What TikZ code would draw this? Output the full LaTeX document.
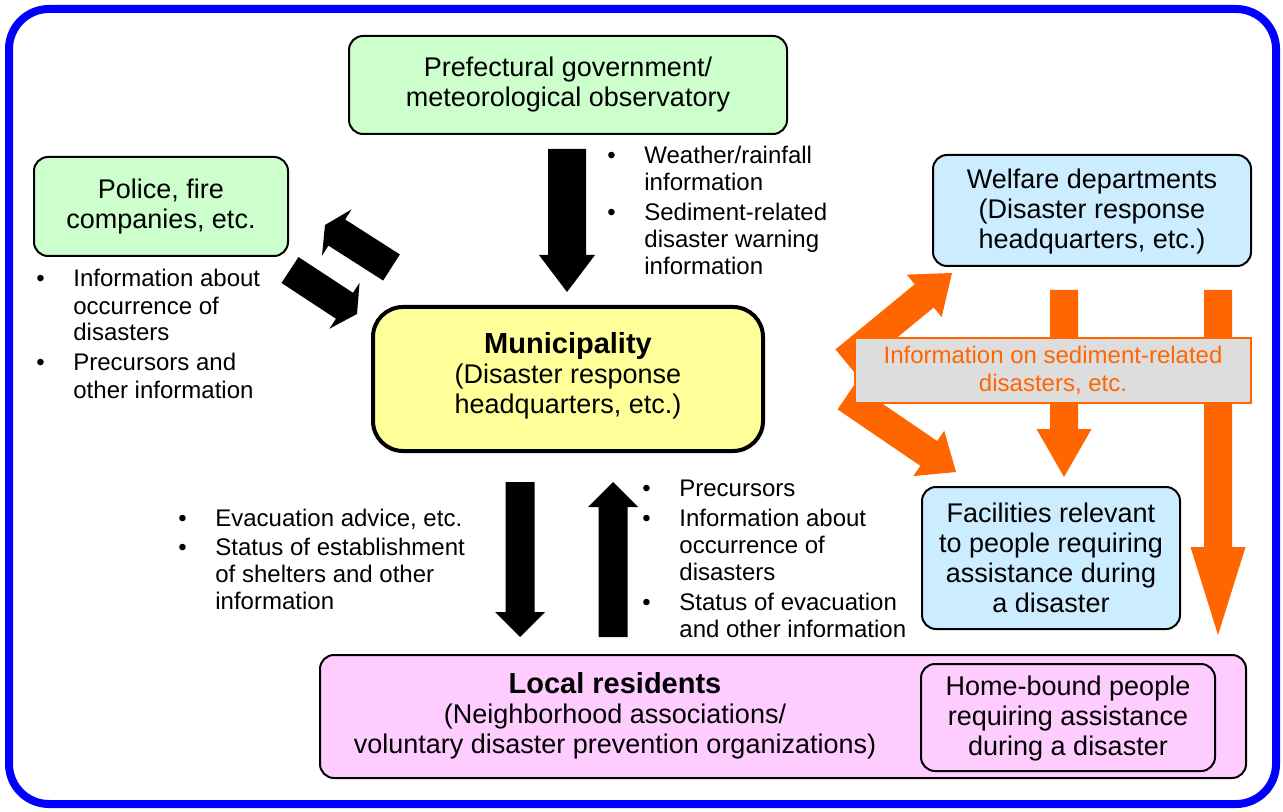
\documentclass[tikz,border=0pt]{standalone}
\usepackage{fontspec}
\setmainfont{Liberation Sans}
\usetikzlibrary{calc}
\definecolor{bordblue}{HTML}{0000FF}
\definecolor{cgreen}{HTML}{CCFFCC}
\definecolor{cblue}{HTML}{CCECFF}
\definecolor{cyellow}{HTML}{FFFF99}
\definecolor{cpink}{HTML}{FFCCFF}
\definecolor{corange}{HTML}{FF6600}
\definecolor{cgray}{HTML}{DDDDDD}
\newcommand\boxfont{\fontsize{13.5}{15}\selectfont}
\newcommand\listfont{\fontsize{12}{13.5}\selectfont}
\newcommand\headfont{\fontsize{14.5}{16.5}\selectfont\bfseries}
\newcommand\bul{\makebox[18.5pt][l]{\textbullet}}
\newcommand\ind{\hspace*{18.5pt}}
% #1 style, #2 start, #3 tip, #4 shaft half width, #5 head half width, #6 head length
\newcommand\myblockarrow[6]{%
  \path ($(#3)!#6!(#2)$) coordinate (hb);
  \fill[#1] ($(#2)!#4!90:(#3)$) -- ($(hb)!#4!90:(#3)$) -- ($(hb)!#5!90:(#3)$) -- (#3)
    -- ($(hb)!#5!-90:(#3)$) -- ($(hb)!#4!-90:(#3)$) -- ($(#2)!#4!-90:(#3)$) -- cycle;}
\begin{document}
\begin{tikzpicture}[x=0.5pt,y=-0.5pt,
  box/.style={draw=black, line width=1pt, rounded corners=7pt, align=center, inner sep=0pt, font=\boxfont},
  listtext/.style={anchor=base west, align=left, inner sep=0pt, font=\listfont},
  blackarrow/.style={fill=black},
  orangearrow/.style={fill=corange}]
\useasboundingbox (0,0) rectangle (1283,812);
\fill[white] (0,0) rectangle (1283,812);
\draw[bordblue, line width=4pt, rounded corners=20pt] (9,9) rectangle (1276,804);

% boxes
\node[box, fill=cgreen, minimum width=219pt, minimum height=49pt] (pref) at (568,85)
  {Prefectural government/\\meteorological observatory};
\node[box, fill=cgreen, minimum width=127pt, minimum height=49.5pt] (police) at (161,206.5)
  {Police, fire\\companies, etc.};
\node[box, fill=cblue, minimum width=159pt, minimum height=55.5pt] (welfare) at (1092,210.5) {};
\node[align=center, inner sep=0pt, font=\boxfont] (welfaretext) at (1092,212)
  {Welfare departments\\(Disaster response\\headquarters, etc.)};
\node[box, fill=cyellow, line width=2pt, rounded corners=15pt, minimum width=195pt, minimum height=72pt] (muni) at (568,379) {};
\node[align=center, inner sep=0pt, font=\boxfont] (munitext) at (568,376)
  {{\headfont Municipality}\\(Disaster response\\headquarters, etc.)};
\node[box, fill=cblue, minimum width=129pt, minimum height=71pt] (facil) at (1051,558)
  {Facilities relevant\\to people requiring\\assistance during\\a disaster};
\node[box, fill=cpink, minimum width=463pt, minimum height=61.5pt] (local) at (783,716.5) {};
\node[align=center, inner sep=0pt, font=\boxfont] (localtext) at (615,716)
  {{\headfont Local residents}\\(Neighborhood associations/\\voluntary disaster prevention organizations)};
\node[box, fill=cpink, minimum width=147pt, minimum height=53.5pt] (home) at (1068,717.5) {};
\node[align=center, inner sep=0pt, font=\boxfont] (hometext) at (1068,719)
  {Home-bound people\\requiring assistance\\during a disaster};

% black arrows
\coordinate (a1s) at (567,149); \coordinate (a1e) at (567,292);
\coordinate (a2s) at (520,482); \coordinate (a2e) at (520,637);
\coordinate (a3s) at (613,637); \coordinate (a3e) at (613,482);
\coordinate (p1s) at (391.5,267.5); \coordinate (p1e) at (325,225);
\coordinate (p2s) at (290,270); \coordinate (p2e) at (357,314);
\myblockarrow{blackarrow}{a1s}{a1e}{9.5pt}{14pt}{18.5pt}
\myblockarrow{blackarrow}{a2s}{a2e}{7.25pt}{12.5pt}{12.5pt}
\myblockarrow{blackarrow}{a3s}{a3e}{7.25pt}{12.5pt}{12.5pt}
\myblockarrow{blackarrow}{p1s}{p1e}{7.75pt}{13.75pt}{7pt}
\myblockarrow{blackarrow}{p2s}{p2e}{7.75pt}{13.75pt}{7.5pt}

% orange arrows
\coordinate (o1s) at (845,361); \coordinate (o1e) at (952,273);
\coordinate (o2s) at (846,397); \coordinate (o2e) at (956,472);
\coordinate (o3s) at (1064,290); \coordinate (o3e) at (1064,477);
\coordinate (o4s) at (1218,290); \coordinate (o4e) at (1218,635);
\myblockarrow{orangearrow}{o1s}{o1e}{7.5pt}{13.75pt}{18pt}
\myblockarrow{orangearrow}{o2s}{o2e}{7.5pt}{13.75pt}{16.5pt}
\myblockarrow{orangearrow}{o3s}{o3e}{7pt}{13.75pt}{24pt}
\myblockarrow{orangearrow}{o4s}{o4e}{7pt}{13.75pt}{44pt}

\node[draw=corange, fill=cgray, line width=0.75pt, text=corange, align=center, inner sep=0pt,
  minimum width=198pt, minimum height=32.5pt, font=\fontsize{12}{14}\selectfont] (label) at (1053,370.5)
  {Information on sediment-related\\disasters, etc.};

% bullet lists (anchored at the baseline of their last line)
\node[listtext] (list1) at (607,275)
  {\bul Weather/rainfall\\\ind information\\[1.5pt]\bul Sediment-related\\\ind disaster warning\\\ind information};
\node[listtext] (list2) at (36,398)
  {\bul Information about\\\ind occurrence of\\\ind disasters\\[1.5pt]\bul Precursors and\\\ind other information};
\node[listtext] (list3) at (178,609)
  {\bul Evacuation advice, etc.\\[1pt]\bul Status of establishment\\\ind of shelters and other\\\ind information};
\node[listtext] (list4) at (642,637)
  {\bul Precursors\\[1.5pt]\bul Information about\\\ind occurrence of\\\ind disasters\\[1.5pt]\bul Status of evacuation\\\ind and other information};
\end{tikzpicture}
\end{document}
